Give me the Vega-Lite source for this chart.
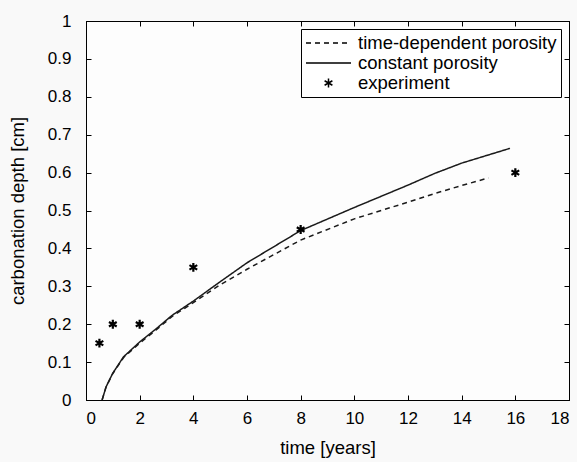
{
  "$schema": "https://vega.github.io/schema/vega-lite/v6.json",
  "width": 483,
  "height": 379,
  "autosize": {"type": "none"},
  "padding": {"left": 86, "top": 21, "right": 8, "bottom": 62},
  "background": "#f9f9f9",
  "config": {
    "font": "Liberation Sans",
    "view": {"stroke": "black", "strokeWidth": 1, "fill": "#fdfdfd"},
    "axis": {
      "grid": false,
      "domainColor": "black",
      "tickColor": "black",
      "labelColor": "black",
      "titleColor": "black",
      "labelFont": "Liberation Sans",
      "titleFont": "Liberation Sans",
      "labelFontSize": 17,
      "titleFontSize": 18.5,
      "titleFontWeight": "normal",
      "tickSize": -5,
      "format": "~g"
    }
  },
  "datasets": {
    "curves": [
      {"t": 0.6, "v": 0.0, "series": "constant porosity"},
      {"t": 0.75, "v": 0.035, "series": "constant porosity"},
      {"t": 1.0, "v": 0.071, "series": "constant porosity"},
      {"t": 1.4, "v": 0.114, "series": "constant porosity"},
      {"t": 2.0, "v": 0.153, "series": "constant porosity"},
      {"t": 2.6, "v": 0.187, "series": "constant porosity"},
      {"t": 3.2, "v": 0.223, "series": "constant porosity"},
      {"t": 4.0, "v": 0.261, "series": "constant porosity"},
      {"t": 5.0, "v": 0.312, "series": "constant porosity"},
      {"t": 6.0, "v": 0.362, "series": "constant porosity"},
      {"t": 8.0, "v": 0.447, "series": "constant porosity"},
      {"t": 10.0, "v": 0.508, "series": "constant porosity"},
      {"t": 12.0, "v": 0.567, "series": "constant porosity"},
      {"t": 13.0, "v": 0.598, "series": "constant porosity"},
      {"t": 14.0, "v": 0.625, "series": "constant porosity"},
      {"t": 15.8, "v": 0.664, "series": "constant porosity"},
      {"t": 0.6, "v": 0.0, "series": "time-dependent porosity"},
      {"t": 0.75, "v": 0.035, "series": "time-dependent porosity"},
      {"t": 1.0, "v": 0.07, "series": "time-dependent porosity"},
      {"t": 1.4, "v": 0.112, "series": "time-dependent porosity"},
      {"t": 2.0, "v": 0.15, "series": "time-dependent porosity"},
      {"t": 2.6, "v": 0.184, "series": "time-dependent porosity"},
      {"t": 3.2, "v": 0.22, "series": "time-dependent porosity"},
      {"t": 4.0, "v": 0.257, "series": "time-dependent porosity"},
      {"t": 5.0, "v": 0.304, "series": "time-dependent porosity"},
      {"t": 6.0, "v": 0.345, "series": "time-dependent porosity"},
      {"t": 8.0, "v": 0.422, "series": "time-dependent porosity"},
      {"t": 10.0, "v": 0.478, "series": "time-dependent porosity"},
      {"t": 12.0, "v": 0.522, "series": "time-dependent porosity"},
      {"t": 13.0, "v": 0.545, "series": "time-dependent porosity"},
      {"t": 14.0, "v": 0.566, "series": "time-dependent porosity"},
      {"t": 15.0, "v": 0.586, "series": "time-dependent porosity"}
    ],
    "experiment": [
      {"t": 0.5, "v": 0.15, "series": "experiment"},
      {"t": 1, "v": 0.2, "series": "experiment"},
      {"t": 2, "v": 0.2, "series": "experiment"},
      {"t": 4, "v": 0.35, "series": "experiment"},
      {"t": 8, "v": 0.45, "series": "experiment"},
      {"t": 16, "v": 0.6, "series": "experiment"}
    ]
  },
  "layer": [
    {
      "data": {"name": "curves"},
      "mark": {"type": "line", "color": "#1a1a1a", "strokeWidth": 1.5},
      "encoding": {
        "x": {
          "field": "t", "type": "quantitative",
          "scale": {"domain": [0, 18], "nice": false},
          "axis": {"values": [0, 2, 4, 6, 8, 10, 12, 14, 16, 18], "title": "time [years]", "labelPadding": 15, "titlePadding": 12, "orient": "bottom"}
        },
        "y": {
          "field": "v", "type": "quantitative",
          "scale": {"domain": [0, 1], "nice": false},
          "axis": {"values": [0, 0.1, 0.2, 0.3, 0.4, 0.5, 0.6, 0.7, 0.8, 0.9, 1], "title": "carbonation depth [cm]", "labelPadding": 20, "titlePadding": 20, "orient": "left"}
        },
        "strokeDash": {
          "field": "series", "type": "nominal",
          "scale": {
            "domain": ["time-dependent porosity", "constant porosity", "experiment"],
            "range": [[5, 4], [1, 0], [1, 0]]
          },
          "legend": {
            "title": null,
            "orient": "top-right",
            "offset": 8,
            "strokeColor": "black",
            "fillColor": "white",
            "padding": 4,
            "labelFontSize": 18.5,
            "labelColor": "black",
            "labelOffset": 6,
            "labelLimit": 400,
            "symbolSize": 2025,
            "symbolStrokeColor": "black",
            "symbolStrokeWidth": 1.5,
            "clipHeight": 20,
            "rowPadding": 0,
            "encode": {
              "symbols": {"update": {"size": {"signal": "datum.value === 'experiment' ? 80 : 2025"}}}
            }
          }
        }
      }
    },
    {
      "data": {"name": "experiment"},
      "mark": {"type": "point", "filled": false, "stroke": "black", "strokeWidth": 2.2, "size": 80, "opacity": 1},
      "encoding": {
        "x": {
          "field": "t", "type": "quantitative",
          "scale": {"domain": [0, 18], "nice": false},
          "axis": {"values": [0, 2, 4, 6, 8, 10, 12, 14, 16, 18], "orient": "top", "labels": false, "title": null}
        },
        "y": {
          "field": "v", "type": "quantitative",
          "scale": {"domain": [0, 1], "nice": false},
          "axis": {"values": [0, 0.1, 0.2, 0.3, 0.4, 0.5, 0.6, 0.7, 0.8, 0.9, 1], "orient": "right", "labels": false, "title": null}
        },
        "shape": {
          "field": "series", "type": "nominal",
          "scale": {
            "domain": ["time-dependent porosity", "constant porosity", "experiment"],
            "range": ["stroke", "stroke", "M0,-1L0,1M-0.87,-0.5L0.87,0.5M-0.87,0.5L0.87,-0.5"]
          },
          "legend": {
            "title": null,
            "orient": "top-right",
            "offset": 8,
            "strokeColor": "black",
            "fillColor": "white",
            "padding": 4,
            "labelFontSize": 18.5,
            "labelColor": "black",
            "labelOffset": 6,
            "labelLimit": 400,
            "symbolSize": 2025,
            "symbolStrokeColor": "black",
            "symbolStrokeWidth": 1.5,
            "clipHeight": 20,
            "rowPadding": 0,
            "encode": {
              "symbols": {"update": {"size": {"signal": "datum.value === 'experiment' ? 80 : 2025"}}}
            }
          }
        }
      }
    }
  ],
  "resolve": {"axis": {"x": "independent", "y": "independent"}}
}
